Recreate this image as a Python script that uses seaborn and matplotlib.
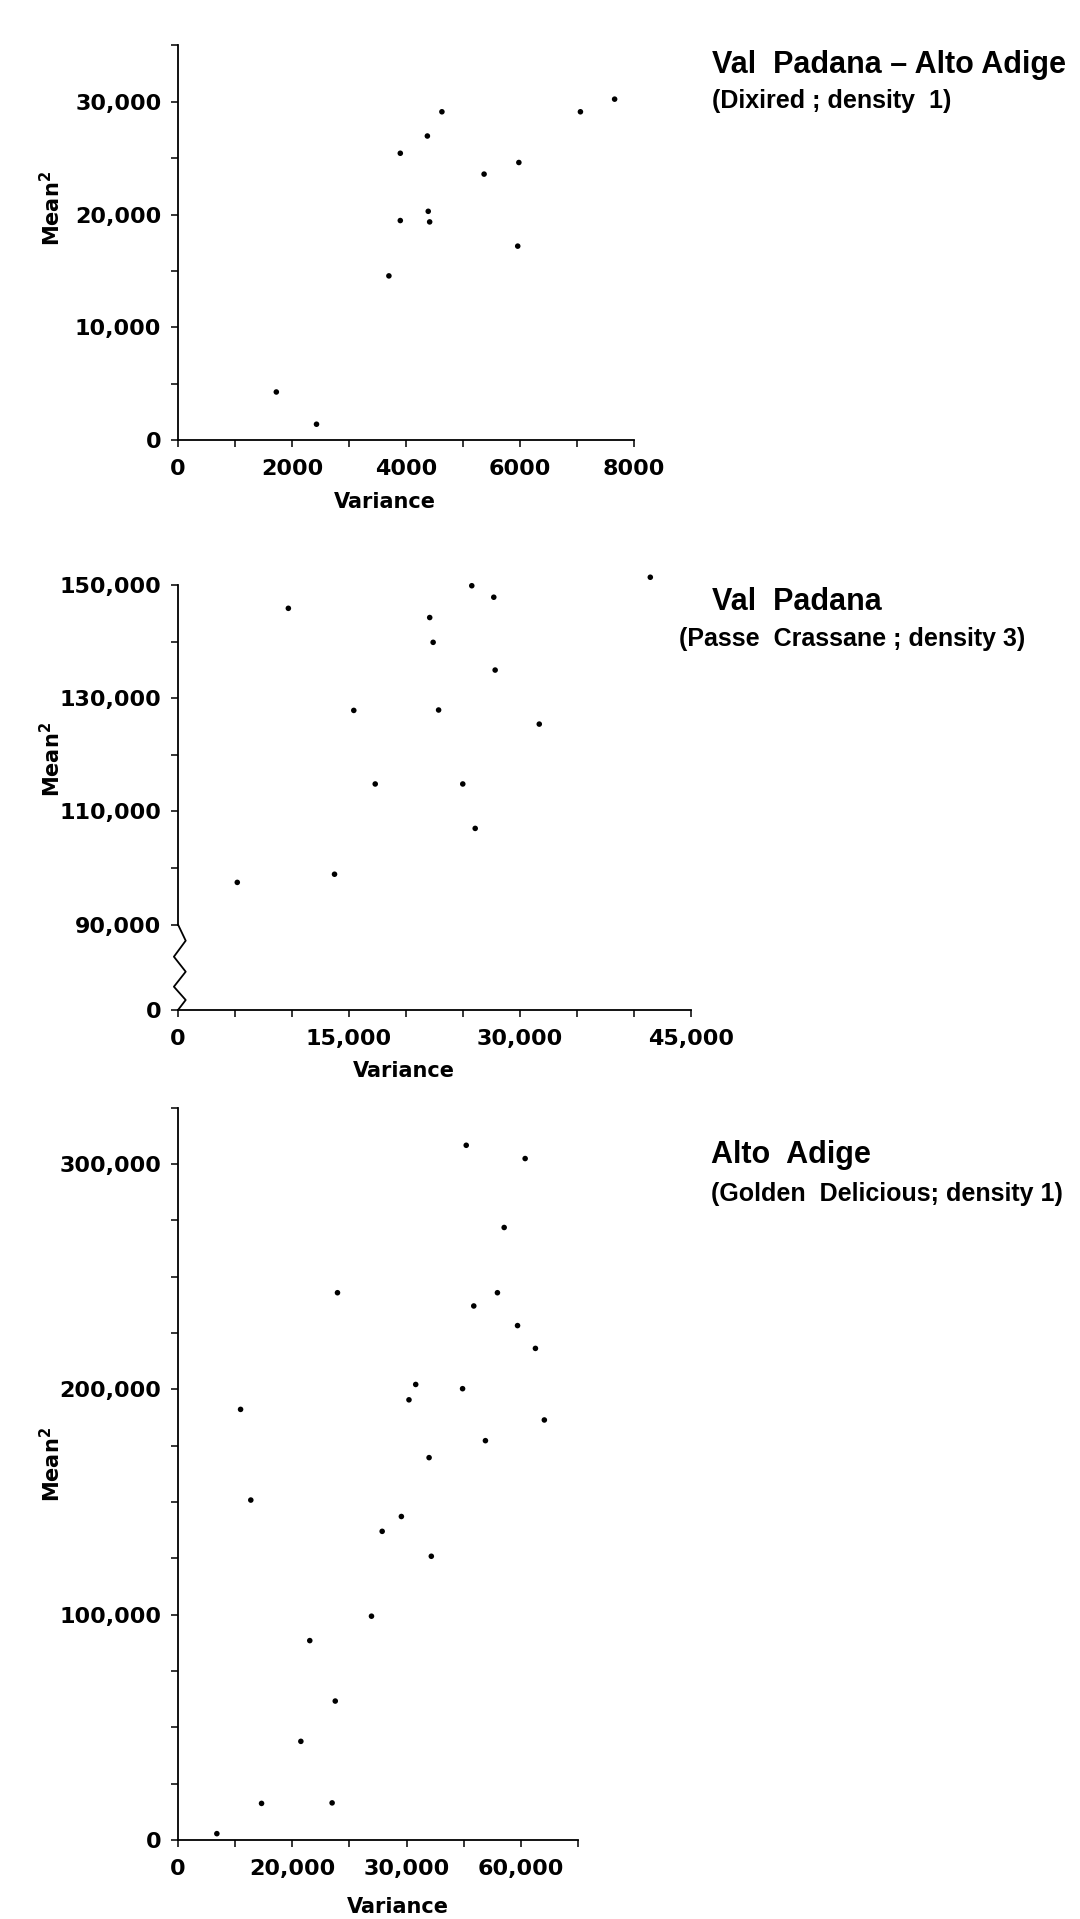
import matplotlib
matplotlib.use("Agg")
import matplotlib.pyplot as plt
import matplotlib.transforms as mtransforms
from matplotlib.ticker import FixedLocator, FixedFormatter, NullFormatter
import pandas as pd
import seaborn as sns

# --- data ---
# Val Padana - Alto Adige (Dixired; density 1)
dix_var = [1725, 2430, 3700, 3900, 3900, 4375, 4390, 4415, 4630, 5370, 5980, 5960, 7060, 7660]
dix_mean2 = [4260, 1400, 14560, 25440, 19470, 26970, 20290, 19350, 29120, 23590, 24620, 17200, 29120, 30240]

# Val Padana (Passe Crassane; density 3)
pc_var = [41430, 25770, 27700, 9680, 22080, 22380, 27820, 15420, 22860, 31690,
          17300, 24980, 26070, 13730, 5200]
pc_mean2 = [151370, 149870, 147840, 145880, 144250, 139870, 134970, 127840, 127910, 125420,
            114840, 114840, 106990, 98890, 97450]

# Alto Adige (Golden Delicious; density 1)
gd_var = [50440, 60750, 57080, 27910, 55900, 51760, 59420, 62550, 41600, 49800, 40420, 10950, 64110,
          53800, 43940, 12740, 39090, 35730, 44330, 33860, 23060, 27520, 21500, 14620, 26970, 6800]
gd_mean2 = [308240, 302350, 271760, 242820, 242820, 236940, 228235, 218120, 202120, 200240, 195300,
            191060, 186360, 177180, 169650, 150825, 143530, 136950, 125890, 99300, 88470, 61650,
            43770, 16240, 16470, 2820]

# tick positions / labels
p1_xmaj, p1_xlab = [0, 2000, 4000, 6000, 8000], ["0", "2000", "4000", "6000", "8000"]
p1_xmin = [1000, 3000, 5000, 7000]
p1_ymaj, p1_ylab = [0, 10000, 20000, 30000], ["0", "10,000", "20,000", "30,000"]
p1_ymin = [5000, 15000, 25000, 35000]

p2_xmaj, p2_xlab = [0, 15000, 30000, 45000], ["0", "15,000", "30,000", "45,000"]
p2_xmin = [5000, 10000, 20000, 25000, 35000, 40000]
p2_ybreak = 74900  # axis is broken: the "0" tick sits here
p2_ymaj = [p2_ybreak, 90000, 110000, 130000, 150000]
p2_ylab = ["0", "90,000", "110,000", "130,000", "150,000"]
p2_ymin = [100000, 120000, 140000]

p3_xmaj, p3_xlab = [0, 20000, 40000, 60000], ["0", "20,000", "30,000", "60,000"]
p3_xmin = [10000, 30000, 50000, 70000]
p3_ymaj, p3_ylab = [0, 100000, 200000, 300000], ["0", "100,000", "200,000", "300,000"]
p3_ymin = [25000, 50000, 75000, 125000, 150000, 175000, 225000, 250000, 275000, 325000]

sns.set_style("ticks")
plt.rcParams["font.family"] = ["DejaVu Sans"]
plt.rcParams["mathtext.fontset"] = "dejavusans"
plt.rcParams["mathtext.default"] = "bf"
plt.rcParams["text.color"] = "black"
plt.rcParams["xtick.color"] = "black"
plt.rcParams["ytick.color"] = "black"
plt.rcParams["axes.labelcolor"] = "black"

W, H = 1080, 1919
fig = plt.figure(figsize=(W / 100, H / 100), dpi=100)
fig.patch.set_facecolor("white")


def px_axes(left, right, top, bottom):
    return fig.add_axes([left / W, 1 - bottom / H, (right - left) / W, (bottom - top) / H])


def style(ax, xlim, ylim, xmaj, xlab, xmin, ymaj, ylab, ymin):
    ax.set_xlim(*xlim)
    ax.set_ylim(*ylim)
    ax.xaxis.set_major_locator(FixedLocator(xmaj))
    ax.xaxis.set_major_formatter(FixedFormatter(xlab))
    ax.xaxis.set_minor_locator(FixedLocator(xmin))
    ax.xaxis.set_minor_formatter(NullFormatter())
    ax.yaxis.set_major_locator(FixedLocator(ymaj))
    ax.yaxis.set_major_formatter(FixedFormatter(ylab))
    ax.yaxis.set_minor_locator(FixedLocator(ymin))
    ax.yaxis.set_minor_formatter(NullFormatter())
    for s in ["top", "right"]:
        ax.spines[s].set_visible(False)
    for s in ["left", "bottom"]:
        ax.spines[s].set_linewidth(1.3)
        ax.spines[s].set_color("black")
    ax.tick_params(which="both", direction="out", length=5, width=1.1, color="black")
    ax.tick_params(axis="y", which="major", pad=7, labelsize=16, labelcolor="black")
    ax.tick_params(axis="x", which="major", pad=9, labelsize=16, labelcolor="black")
    for lab in ax.get_xticklabels() + ax.get_yticklabels():
        lab.set_fontweight("bold")
    ax.set_facecolor("none")


def labels(ax, xl_x, xl_y, yl_x, yl_y):
    ax.set_xlabel("Variance", fontsize=15, fontweight="bold", color="black")
    ax.set_ylabel("Mean$^2$", fontsize=15, fontweight="bold", color="black")
    ax.xaxis.set_label_coords(xl_x, xl_y)
    ax.yaxis.set_label_coords(yl_x, yl_y)


dot = dict(color="black", s=16, edgecolor="none", clip_on=False, legend=False)
title_font = dict(family=["Liberation Sans", "DejaVu Sans"], fontweight="bold", color="black")

# ---- panel 1 ----
ax1 = px_axes(178, 634, 45.5, 440)
sns.scatterplot(data=pd.DataFrame({"Variance": dix_var, "Mean2": dix_mean2}),
                x="Variance", y="Mean2", ax=ax1, **dot)
style(ax1, (0, 8000), (0, 35000), p1_xmaj, p1_xlab, p1_xmin, p1_ymaj, p1_ylab, p1_ymin)
labels(ax1, 0.454, -0.132, -0.25, 0.587)
fig.text(712 / W, 1 - 73 / H, "Val  Padana – Alto Adige", fontsize=22, va="baseline", **title_font)
fig.text(712 / W, 1 - 108 / H, "(Dixired ; density  1)", fontsize=18, va="baseline", **title_font)

# ---- panel 2 (broken y axis) ----
ax2 = px_axes(178, 691, 585, 1010)
sns.scatterplot(data=pd.DataFrame({"Variance": pc_var, "Mean2": pc_mean2}),
                x="Variance", y="Mean2", ax=ax2, **dot)
style(ax2, (0, 45000), (p2_ybreak, 150000), p2_xmaj, p2_xlab, p2_xmin, p2_ymaj, p2_ylab, p2_ymin)
ax2.spines["left"].set_bounds(90000, 150000)
zig = mtransforms.blended_transform_factory(ax2.transAxes, ax2.transData)
zx = [0, 0.015, -0.008, 0.015, -0.008, 0.015, 0]
zy = [90000, 87150, 84320, 81670, 79020, 76670, p2_ybreak]
ax2.plot(zx, zy, color="black", lw=1.3, transform=zig, clip_on=False)
labels(ax2, 0.44, -0.12, -0.2225, 0.59)
fig.text(712 / W, 1 - 610 / H, "Val  Padana", fontsize=22, va="baseline", **title_font)
fig.text(679 / W, 1 - 646 / H, "(Passe  Crassane ; density 3)", fontsize=18, va="baseline", **title_font)

# ---- panel 3 ----
ax3 = px_axes(178, 578, 1107.5, 1840)
sns.scatterplot(data=pd.DataFrame({"Variance": gd_var, "Mean2": gd_mean2}),
                x="Variance", y="Mean2", ax=ax3, **dot)
style(ax3, (0, 70000), (0, 325000), p3_xmaj, p3_xlab, p3_xmin, p3_ymaj, p3_ylab, p3_ymin)
labels(ax3, 0.549, -0.078, -0.285, 0.512)
fig.text(711 / W, 1 - 1163 / H, "Alto  Adige", fontsize=22, va="baseline", **title_font)
fig.text(711 / W, 1 - 1201 / H, "(Golden  Delicious; density 1)", fontsize=18, va="baseline", **title_font)

fig.savefig("out.png", dpi=100, facecolor="white")
